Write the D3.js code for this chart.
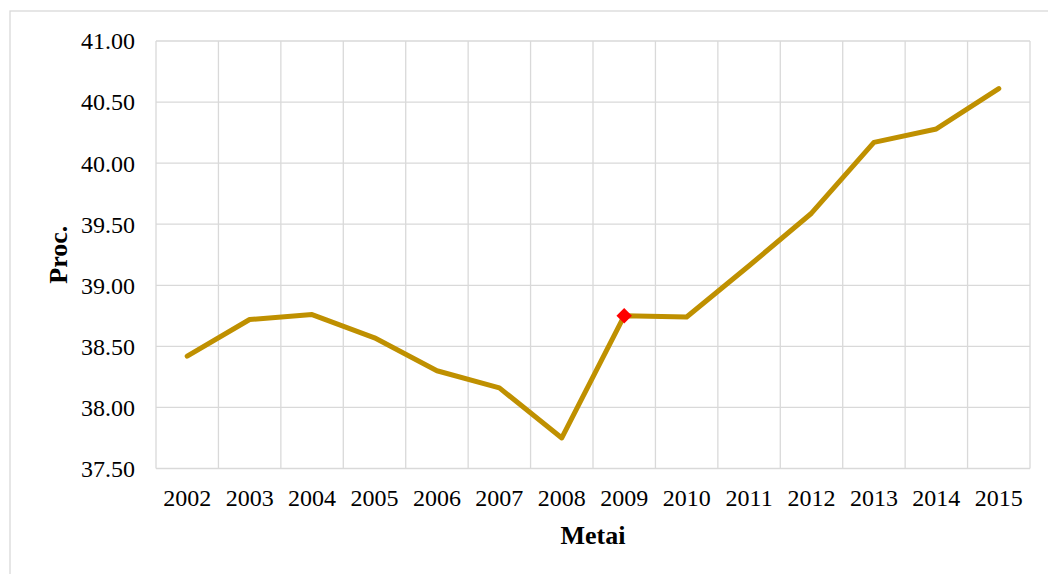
<!DOCTYPE html>
<html><head><meta charset="utf-8">
<script src="https://cdn.jsdelivr.net/npm/d3@7"></script>
<style>body{margin:0;background:#fff}svg{display:block}</style>
</head><body>
<svg id="c" width="1048" height="574"></svg>
<script>
const years = ["2002","2003","2004","2005","2006","2007","2008","2009","2010","2011","2012","2013","2014","2015"];
const values = [38.42, 38.72, 38.76, 38.57, 38.30, 38.16, 37.75, 38.75, 38.74, 39.16, 39.59, 40.17, 40.28, 40.61];
const yTicks = [37.5, 38.0, 38.5, 39.0, 39.5, 40.0, 40.5, 41.0];
const highlightYear = "2009";

const svg = d3.select("#c");
const m = {l:156, r:1030, t:41, b:468.5};
const font = "'Liberation Serif','Times New Roman',serif";

svg.append("rect").attr("x",10).attr("y",11).attr("width",1060).attr("height",600)
  .attr("fill","#fff").attr("stroke","#d9d9d9").attr("stroke-width",1.3);

const x = d3.scaleBand().domain(years).range([m.l,m.r]).padding(0);
const y = d3.scaleLinear().domain([37.5,41]).range([m.b,m.t]);

// horizontal grid
svg.append("g").selectAll("line").data(yTicks).join("line")
  .attr("x1",m.l).attr("x2",m.r).attr("y1",d=>y(d)).attr("y2",d=>y(d))
  .attr("stroke","#d9d9d9").attr("stroke-width",1.3);
// vertical grid at category boundaries
const bounds = years.map(d=>x(d)).concat([x(years[years.length-1])+x.bandwidth()]);
svg.append("g").selectAll("line").data(bounds).join("line")
  .attr("x1",d=>d).attr("x2",d=>d).attr("y1",m.t).attr("y2",m.b)
  .attr("stroke","#d9d9d9").attr("stroke-width",1.3);

// y tick labels
const yAxis = svg.append("g").attr("transform",`translate(${m.l},0)`)
  .call(d3.axisLeft(y).tickValues(yTicks).tickFormat(d3.format(".2f")).tickSize(0).tickPadding(21));
yAxis.select(".domain").remove();
yAxis.selectAll("text").attr("font-family",font).attr("font-size",24).attr("fill","#000").attr("dy","0.33em");

// x tick labels
const xAxis = svg.append("g").attr("transform",`translate(0,${m.b})`)
  .call(d3.axisBottom(x).tickSize(0).tickPadding(20.5));
xAxis.select(".domain").remove();
xAxis.selectAll("text").attr("font-family",font).attr("font-size",24).attr("fill","#000");

// line
const line = d3.line().x((d,i)=>x(years[i])+x.bandwidth()/2).y(d=>y(d));
svg.append("path").datum(values).attr("d",line).attr("fill","none")
  .attr("stroke","#BF9000").attr("stroke-width",5).attr("stroke-linejoin","round").attr("stroke-linecap","round");

// highlight marker
const hi = years.indexOf(highlightYear);
svg.append("path").attr("d",d3.symbol(d3.symbolSquare,120)())
  .attr("transform",`translate(${x(highlightYear)+x.bandwidth()/2},${y(values[hi])}) rotate(45)`)
  .attr("fill","#FF0000");

// axis titles
svg.append("text").attr("x",(m.l+m.r)/2).attr("y",544).attr("text-anchor","middle")
  .attr("font-family",font).attr("font-size",26).attr("font-weight","bold").text("Metai");
svg.append("text").attr("transform",`translate(67,${(m.t+m.b)/2}) rotate(-90)`).attr("text-anchor","middle")
  .attr("font-family",font).attr("font-size",26).attr("font-weight","bold").text("Proc.");
</script>
</body></html>
